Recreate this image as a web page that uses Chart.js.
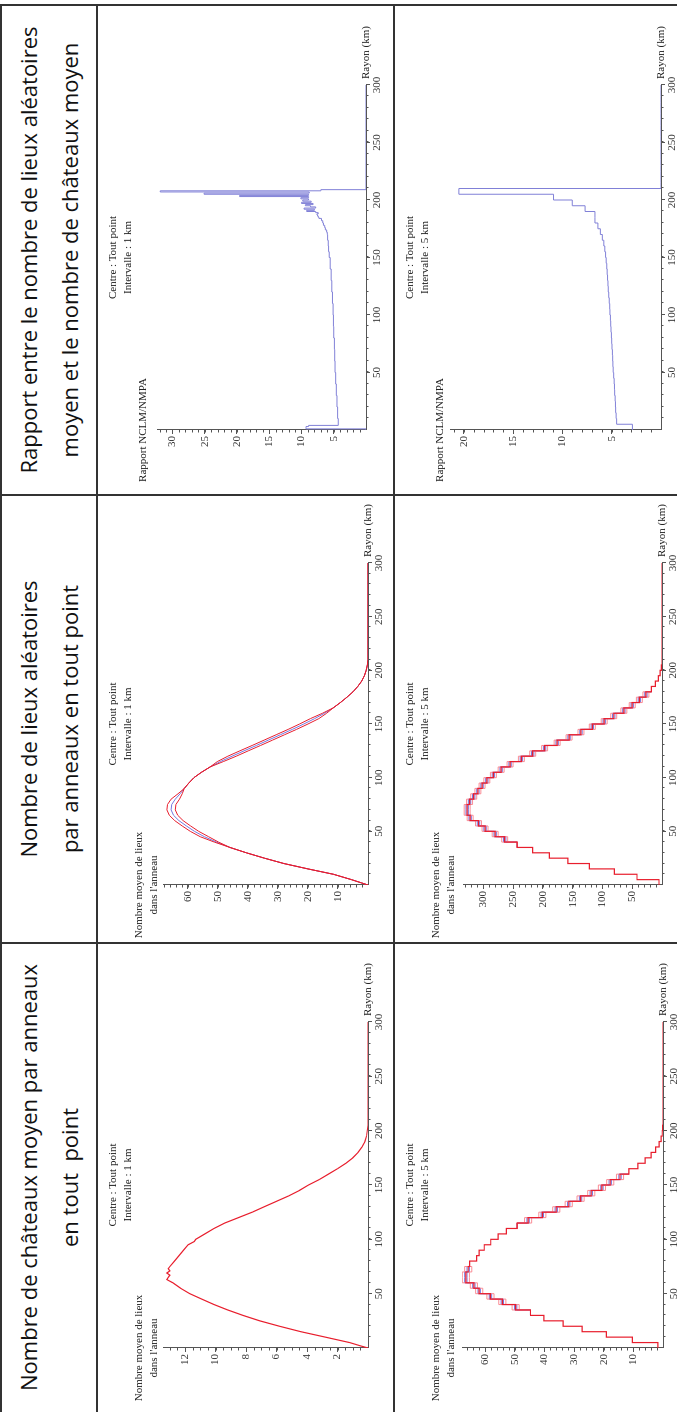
<!DOCTYPE html>
<html>
<head>
<meta charset="utf-8">
<script src="https://cdn.jsdelivr.net/npm/chart.js@4.4.0/dist/chart.umd.min.js"></script>
<style>
html, body { margin: 0; padding: 0; background: #fff; width: 677px; height: 1412px; overflow: hidden; }
#sheet { position: absolute; left: 0; top: 0; width: 1412px; height: 691px; transform-origin: 0 0; transform: translate(0, 1412px) rotate(-90deg); }
.rule { position: absolute; background: #333; }
.head { position: absolute; top: 0; height: 97px; display: flex; flex-direction: column; justify-content: center; align-items: center;
        font-family: "Open Sans", sans-serif; font-size: 22px; line-height: 41px; color: #111; white-space: pre; }
.cell { position: absolute; }
.cell canvas { position: absolute; left: 0; top: 0; }
.note { position: absolute; font-family: "Liberation Serif", serif; font-size: 11px; line-height: 15px; color: #222; white-space: nowrap; text-align: center; transform: translateX(-50%); }
.axisname { position: absolute; font-family: "Liberation Serif", serif; font-size: 11px; line-height: 15px; color: #222; white-space: nowrap; }
</style>
</head>
<body>
<div id="sheet"></div>
<script>
// ================= DATA =================
const headers = [
    ["Nombre de châteaux moyen par anneaux", "en tout  point"],
    ["Nombre de lieux aléatoires", "par anneaux en tout point"],
    ["Rapport entre le nombre de lieux aléatoires", "moyen et le nombre de châteaux moyen"]
];

const kmLabels = [50, 100, 150, 200, 250, 300];
const ticksA = [2, 4, 6, 8, 10, 12];
const ticksB = [10, 20, 30, 40, 50, 60];
const ticksC = [5, 10, 15, 20, 25, 30];
const ticksD = [10, 20, 30, 40, 50, 60];
const ticksE = [50, 100, 150, 200, 250, 300];
const ticksF = [5, 10, 15, 20];

// castles, 1 km
const aR = [0, 2, 5, 10, 15, 20, 25, 30, 35, 40, 45, 50, 55, 60, 63, 65, 67, 69, 71, 73,
            75, 80, 85, 90, 95, 98, 100, 105, 110, 115, 120, 125, 130, 135, 140, 145, 150, 155, 160, 165,
            170, 175, 180, 185, 190, 195, 200, 205, 300];
const aVal = [0, 0.5, 1.2, 2.8, 4.4, 5.8, 7.1, 8.2, 9.2, 10.1, 10.9, 11.7, 12.3, 12.8, 13.2, 13.1, 13.0, 13.2, 13.0, 13.1,
              13.0, 12.7, 12.4, 12.1, 11.8, 11.4, 11.3, 10.7, 10.1, 9.4, 8.5, 7.6, 6.8, 6.0, 5.2, 4.5, 3.9, 3.2, 2.6, 2.0,
              1.45, 1.0, 0.65, 0.4, 0.2, 0.1, 0.05, 0, 0];

// random places, 1 km (mean and two bounds)
const bR = [0, 2, 5, 10, 15, 20, 25, 30, 35, 40, 45, 50, 55, 60, 65, 70, 75, 80, 85, 90,
            95, 100, 105, 110, 115, 120, 125, 130, 135, 140, 145, 150, 155, 160, 165, 170, 175, 180, 185, 190,
            195, 200, 205, 210, 300];
const bMid = [0, 2.2, 5.5, 11.5, 20, 28, 34.5, 40.5, 46, 50.5, 54.5, 57.8, 60.5, 63, 64.8, 65.6, 65.4, 64.2, 62.6, 61.2,
              59.7, 58, 55.5, 52.6, 49.2, 45.3, 41.3, 37.2, 33.2, 29.2, 25.2, 21.4, 17.8, 14.5, 11.6, 9.2, 7.0, 5.0, 3.4, 2.1,
              1.2, 0.6, 0.2, 0, 0];
const bHigh = [0, 2.2, 5.5, 11.5, 20, 28, 34.5, 40.5, 46, 51.2, 55.9, 59.2, 61.9, 64.4, 66.2, 67.0, 66.8, 65.6, 63.3, 61.2,
               59.7, 58, 55.5, 52.6, 50.2, 46.7, 42.7, 38.6, 34.6, 30.6, 26.6, 22.8, 19.2, 15.2, 11.6, 9.2, 7.0, 5.0, 3.4, 2.1,
               1.2, 0.6, 0.2, 0, 0];
const bLow = [0, 2.2, 5.5, 11.5, 20, 28, 34.5, 40.5, 46, 49.8, 53.1, 56.4, 59.1, 61.6, 63.4, 64.2, 64.0, 62.8, 61.9, 61.2,
              59.7, 58, 55.5, 52.6, 48.2, 43.9, 39.9, 35.8, 31.8, 27.8, 23.8, 20.0, 16.4, 13.8, 11.6, 9.2, 7.0, 5.0, 3.4, 2.1,
              1.2, 0.6, 0.2, 0, 0];

// ratio NCLM/NMPA, 1 km
const cR = [0, 1, 2, 3, 4, 10, 20, 30, 40, 50, 60, 70, 80, 90, 100, 110, 120, 130, 140, 150,
            155, 160, 165, 170, 172, 174, 176, 178, 180, 182, 184, 185, 186, 187, 188, 189, 190, 191, 192, 193,
            194, 195, 196, 197, 198, 199, 200, 201, 202, 203, 204, 205, 206, 207, 208, 209, 300];
const cVal = [0, 9.3, 9.3, 8.9, 4.3, 4.4, 4.5, 4.6, 4.7, 4.8, 4.85, 4.9, 5.0, 5.05, 5.1, 5.2, 5.3, 5.4, 5.55, 5.7,
              5.8, 5.85, 5.95, 6.0, 6.1, 6.3, 6.4, 6.6, 6.7, 6.9, 7.3, 7.4, 7.5, 7.6, 7.4, 7.8, 9.2, 8.0, 9.6, 7.8,
              8.6, 9.4, 8.2, 10.0, 8.5, 9.8, 8.9, 10.1, 8.9, 19.6, 8.9, 25.1, 8.8, 31.9, 7.0, 0, 0];

// 5 km rings
const bins5 = [0, 5, 10, 15, 20, 25, 30, 35, 40, 45, 50, 55, 60, 65, 70, 75, 80, 85, 90, 95,
               100, 105, 110, 115, 120, 125, 130, 135, 140, 145, 150, 155, 160, 165, 170, 175, 180, 185, 190, 195,
               200, 205, 210, 215, 220, 225, 230, 235, 240, 245, 250, 255, 260, 265, 270, 275, 280, 285, 290, 295, 300];
const dVal = [1.7, 10.3, 19.1, 27.3, 33.7, 40.2, 44.7, 49.7, 54.2, 58.2, 62.0, 63.8, 66.5, 66.5, 65.7, 65.2, 62.9, 62.0, 60.3, 58.1,
              55.6, 52.8, 49.2, 45.5, 40.7, 36.0, 31.8, 27.8, 24.2, 20.6, 17.8, 14.5, 11.5, 8.5, 6.0, 4.0, 2.5, 1.3, 0.6, 0.25,
              0.1, 0, 0, 0, 0, 0, 0, 0, 0, 0, 0, 0, 0, 0, 0, 0, 0, 0, 0, 0, 0];
const eVal = [5, 42, 80, 122, 158, 189, 217, 243, 264, 280, 297, 308, 322, 327, 327, 323, 316, 309, 302, 294,
              283, 270, 255, 236, 217, 197, 176, 156, 136, 117, 97, 81, 64, 50, 38, 27, 18, 11, 6, 3,
              1, 0, 0, 0, 0, 0, 0, 0, 0, 0, 0, 0, 0, 0, 0, 0, 0, 0, 0, 0, 0];
const fVal = [2.9, 4.5, 4.55, 4.6, 4.62, 4.65, 4.7, 4.72, 4.75, 4.8, 4.85, 4.88, 4.9, 4.93, 4.97, 5.0, 5.03, 5.07, 5.1, 5.13,
              5.18, 5.2, 5.25, 5.3, 5.35, 5.38, 5.42, 5.46, 5.5, 5.56, 5.62, 5.7, 5.8, 5.95, 6.15, 6.4, 6.7, 6.7, 7.7, 9.0,
              10.9, 20.5, 0, 0, 0, 0, 0, 0, 0, 0, 0, 0, 0, 0, 0, 0, 0, 0, 0, 0, 0];

// castle bounds (5 km), two runs
const dBoxR1 = [30, 35, 40, 45, 50, 55, 60, 65, 70, 75];
const dPinkHi1 = [44.7, 50.9, 55.4, 59.4, 63.2, 65.0, 67.7, 67.7, 66.9, 65.2];
const dPinkLo1 = [44.7, 48.5, 53.0, 57.0, 60.8, 62.6, 65.3, 65.3, 64.5, 65.2];
const dBlueHi1 = [44.7, 50.1, 54.6, 58.6, 62.4, 64.2, 66.9, 66.9, 66.1, 65.2];
const dBlueLo1 = [44.7, 49.3, 53.8, 57.8, 61.6, 63.4, 66.1, 66.1, 65.3, 65.2];
const dBoxR2 = [110, 115, 120, 125, 130, 135, 140, 145, 150, 155, 160];
const dPinkHi2 = [49.2, 46.7, 41.9, 37.2, 33.0, 29.0, 25.4, 21.8, 19.0, 15.7, 11.5];
const dPinkLo2 = [49.2, 44.3, 39.5, 34.8, 30.6, 26.6, 23.0, 19.4, 16.6, 13.3, 11.5];
const dBlueHi2 = [49.2, 45.9, 41.1, 36.4, 32.2, 28.2, 24.6, 21.0, 18.2, 14.9, 11.5];
const dBlueLo2 = [49.2, 45.1, 40.3, 35.6, 31.4, 27.4, 23.8, 20.2, 17.4, 14.1, 11.5];

// random places bounds (5 km)
const eBoxR = [35, 40, 45, 50, 55, 60, 65, 70, 75, 80, 85, 90, 95, 100, 105, 110, 115, 120, 125, 130,
               135, 140, 145, 150, 155, 160, 165, 170, 175, 180];
const ePinkHi = [243, 269, 285, 302, 313, 327, 332, 332, 328, 321, 314, 307, 299, 288, 275, 260, 241, 222, 202, 181,
                 161, 141, 122, 102, 86, 69, 55, 43, 32, 18];
const ePinkLo = [243, 259, 275, 292, 303, 317, 322, 322, 318, 311, 304, 297, 289, 278, 265, 250, 231, 212, 192, 171,
                 151, 131, 112, 92, 76, 59, 45, 33, 22, 18];
const eBlueHi = [243, 266, 282, 299, 310, 324, 329, 329, 325, 318, 311, 304, 296, 285, 272, 257, 238, 219, 199, 178,
                 158, 138, 119, 99, 83, 66, 52, 40, 29, 18];
const eBlueLo = [243, 262, 278, 295, 306, 320, 325, 325, 321, 314, 307, 300, 292, 281, 268, 253, 234, 215, 195, 174,
                 154, 134, 115, 95, 79, 62, 48, 36, 25, 18];

// ================= LAYOUT =================
const COL_X = [0, 469, 917];
const COL_W = [469, 448, 490];
const ROW_Y = [97, 394];
const CELL_H = 297;
const PLOT_X = [[64, 390], [58, 380], [65, 410]];
const Y_W = 30, X_H = 20;

const RED = "rgb(232,30,45)";
const PINK = "rgba(250,130,140,0.9)";
const BLUE = "rgb(118,118,222)";
const RATIO = "rgb(128,128,215)";
const AXIS = "#555";
const TICKFONT = { family: "Liberation Serif", size: 11 };

const sheet = document.getElementById("sheet");

function pts(xs, ys) {
    return xs.map((x, i) => ({ x: x, y: ys[i] }));
}

function serie(xs, ys, color, stepped, width) {
    return {
        data: pts(xs, ys),
        borderColor: color,
        borderWidth: width || 1,
        stepped: stepped || false,
        pointRadius: 0,
        fill: false,
        tension: 0
    };
}

// ================= TABLE =================
headers.forEach((lines, i) => {
    let h = document.createElement("div");
    h.className = "head";
    h.style.left = COL_X[i] + "px";
    h.style.width = COL_W[i] + "px";
    lines.forEach(t => {
        let s = document.createElement("div");
        s.textContent = t;
        h.appendChild(s);
    });
    sheet.appendChild(h);
});

[
    [0, 0, 1408, 2], [0, 96, 1408, 2], [0, 393, 1408, 2],
    [468, 0, 2, 691], [916, 0, 2, 691], [1406, 0, 2, 691]
].forEach(r => {
    let d = document.createElement("div");
    d.className = "rule";
    d.style.left = r[0] + "px";
    d.style.top = r[1] + "px";
    d.style.width = r[2] + "px";
    d.style.height = r[3] + "px";
    sheet.appendChild(d);
});

// ================= MINOR TICKS =================
function minorTicks(xStep, yStep) {
    return {
        id: "minorTicks",
        afterDraw(chart) {
            let ctx = chart.ctx, x = chart.scales.x, y = chart.scales.y;
            ctx.save();
            ctx.strokeStyle = AXIS;
            ctx.lineWidth = 1;
            ctx.beginPath();
            for (let i = 1; i * xStep < 300; i++) {
                let px = Math.round(x.getPixelForValue(i * xStep)) + 0.5;
                ctx.moveTo(px, y.bottom);
                ctx.lineTo(px, y.bottom + 2.5);
            }
            for (let i = 1; i * yStep < y.max; i++) {
                let py = Math.round(y.getPixelForValue(i * yStep)) + 0.5;
                ctx.moveTo(x.left - 2.5, py);
                ctx.lineTo(x.left, py);
            }
            ctx.stroke();
            ctx.restore();
        }
    };
}

// ================= CHARTS =================
const yTitleCount = ["Nombre moyen de lieux", "dans l'anneau"];
const yTitleRatio = ["Rapport NCLM/NMPA"];

const specs = [
    { col: 0, row: 0, top: 66, bottom: 271, yMax: 13.45, yTicks: ticksA, yMinor: 0.5, title: yTitleCount, step: "1 km",
      datasets: [serie(aR, aVal, RED, false, 1.2)] },
    { col: 1, row: 0, top: 66, bottom: 271, yMax: 68.3, yTicks: ticksB, yMinor: 2, title: yTitleCount, step: "1 km",
      datasets: [serie(bR, bHigh, RED), serie(bR, bLow, RED), serie(bR, bMid, BLUE)] },
    { col: 2, row: 0, top: 60, bottom: 269, yMax: 32.4, yTicks: ticksC, yMinor: 1, title: yTitleRatio, step: "1 km",
      datasets: [serie(cR, cVal, RATIO, true)] },
    { col: 0, row: 1, top: 68, bottom: 269, yMax: 67.8, yTicks: ticksD, yMinor: 2, title: yTitleCount, step: "5 km",
      datasets: [
          serie(bins5, dVal, RED, true, 1.2),
          serie(dBoxR1, dPinkHi1, PINK, true), serie(dBoxR1, dPinkLo1, PINK, true),
          serie(dBoxR2, dPinkHi2, PINK, true), serie(dBoxR2, dPinkLo2, PINK, true),
          serie(dBoxR1, dBlueHi1, BLUE, true), serie(dBoxR1, dBlueLo1, BLUE, true),
          serie(dBoxR2, dBlueHi2, BLUE, true), serie(dBoxR2, dBlueLo2, BLUE, true)
      ] },
    { col: 1, row: 1, top: 69, bottom: 268, yMax: 334, yTicks: ticksE, yMinor: 10, title: yTitleCount, step: "5 km",
      datasets: [
          serie(bins5, eVal, RED, true, 1.2),
          serie(eBoxR, ePinkHi, PINK, true), serie(eBoxR, ePinkLo, PINK, true),
          serie(eBoxR, eBlueHi, BLUE, true), serie(eBoxR, eBlueLo, BLUE, true)
      ] },
    { col: 2, row: 1, top: 56, bottom: 267, yMax: 21.4, yTicks: ticksF, yMinor: 1, title: yTitleRatio, step: "5 km",
      datasets: [serie(bins5, fVal, RATIO, true)] }
];

specs.forEach(sp => {
    let W = COL_W[sp.col], H = CELL_H;
    let cell = document.createElement("div");
    cell.className = "cell";
    cell.style.left = COL_X[sp.col] + "px";
    cell.style.top = ROW_Y[sp.row] + "px";
    cell.style.width = W + "px";
    cell.style.height = H + "px";
    let canvas = document.createElement("canvas");
    canvas.width = W;
    canvas.height = H;
    cell.appendChild(canvas);
    sheet.appendChild(cell);

    let px = PLOT_X[sp.col];
    let chart = new Chart(canvas, {
        type: "line",
        data: { datasets: sp.datasets },
        options: {
            responsive: false,
            animation: false,
            devicePixelRatio: 1,
            layout: {
                autoPadding: false,
                padding: { left: px[0] - Y_W, right: W - px[1], top: sp.top, bottom: H - sp.bottom - X_H }
            },
            plugins: { legend: { display: false }, tooltip: { enabled: false } },
            scales: {
                x: {
                    type: "linear", min: 0, max: 300,
                    afterFit: s => { s.height = X_H; },
                    afterBuildTicks: s => { s.ticks = kmLabels.map(v => ({ value: v })); },
                    ticks: { font: TICKFONT, color: "#333", padding: 1, maxRotation: 0, autoSkip: false },
                    grid: { drawOnChartArea: false, tickLength: 4, color: AXIS, tickColor: AXIS },
                    border: { display: true, color: AXIS, width: 1 }
                },
                y: {
                    type: "linear", min: 0, max: sp.yMax,
                    afterFit: s => { s.width = Y_W; },
                    afterBuildTicks: s => { s.ticks = sp.yTicks.map(v => ({ value: v })); },
                    ticks: { font: TICKFONT, color: "#333", padding: 2, autoSkip: false },
                    grid: { drawOnChartArea: false, tickLength: 4, color: AXIS, tickColor: AXIS },
                    border: { display: true, color: AXIS, width: 1 }
                }
            }
        },
        plugins: [minorTicks(10, sp.yMinor)]
    });

    let ca = chart.chartArea;
    let mid = (ca.left + ca.right) / 2;

    let centre = document.createElement("div");
    centre.className = "note";
    centre.style.left = mid + "px";
    centre.style.top = "8px";
    centre.innerHTML = "Centre : Tout point<br>Intervalle : " + sp.step;
    cell.appendChild(centre);

    let yt = document.createElement("div");
    yt.className = "note";
    yt.style.left = ca.left + "px";
    yt.style.top = (sp.title.length > 1 ? 34 : 38) + "px";
    yt.innerHTML = sp.title.join("<br>");
    cell.appendChild(yt);

    let xt = document.createElement("div");
    xt.className = "axisname";
    xt.style.left = (ca.right + 6) + "px";
    xt.style.top = (ca.bottom - 8) + "px";
    xt.textContent = "Rayon (km)";
    cell.appendChild(xt);
});
</script>
</body>
</html>
